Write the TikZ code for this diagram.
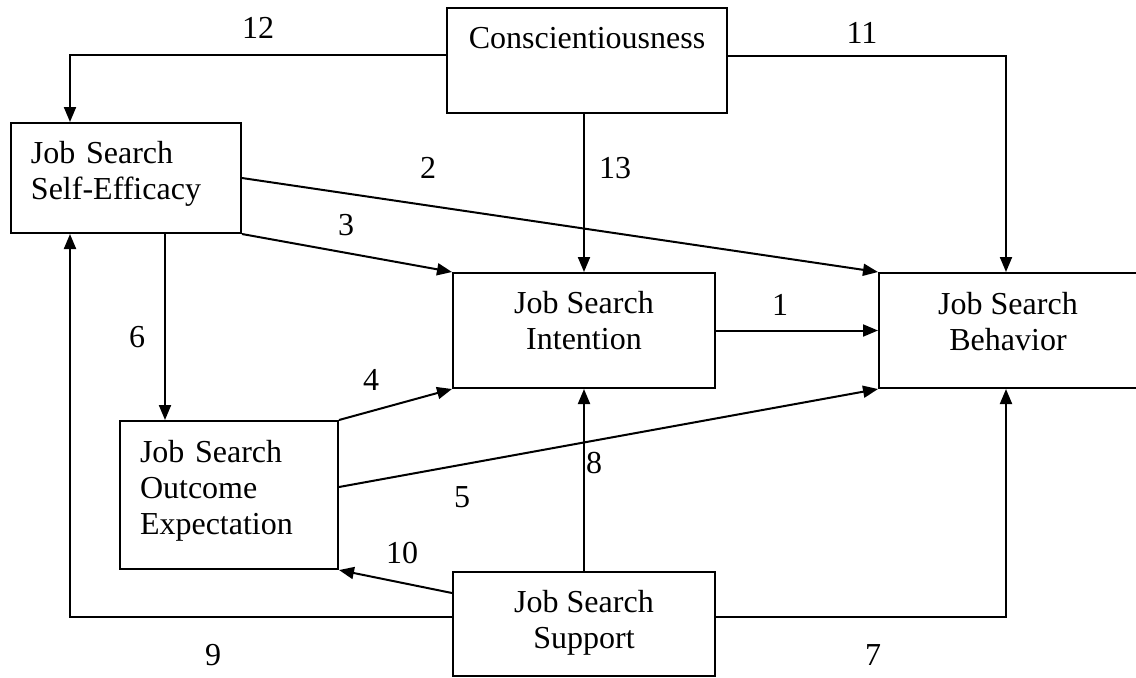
\documentclass[tikz,border=0pt]{standalone}
\usepackage{fontspec}
\setmainfont{Liberation Serif}
\usetikzlibrary{arrows.meta}
\tikzset{
  factor/.style={draw, line width=1pt, inner sep=0pt, font=\fontsize{16}{18}\selectfont},
  flow/.style={-{Triangle[length=7.5pt,width=6pt]}, line width=1pt},
  path num/.style={font=\fontsize{16}{18}\selectfont, inner sep=0pt}
}

\begin{document}
\begin{tikzpicture}[x=0.5pt,y=-0.5pt]
  \useasboundingbox (0,0) rectangle (1136,677);
  \clip (0,0) rectangle (1136,677);

  \node[factor, minimum width=140pt, minimum height=52.5pt, text depth=23pt] (consc) at (587,60.5)
    {Conscientiousness};
  \node[factor, align=left, inner xsep=10pt, text width=95pt, minimum height=55pt, text depth=26pt] (efficacy) at (126,178)
    {Job Search\\Self-Efficacy};
  \node[factor, align=center, minimum width=131pt, minimum height=57.5pt, text depth=10pt] (intention) at (584,330.5)
    {Job Search\\Intention};
  \node[factor, align=center, minimum width=129pt, minimum height=57.5pt, text depth=9.5pt] (behavior) at (1008,330.5)
    {Job Search\\Behavior};
  \node[factor, align=left, inner xsep=10pt, text width=89pt, minimum height=74pt, text depth=43.5pt] (outcome) at (229,495)
    {Job Search\\Outcome\\Expectation};
  \node[factor, align=center, minimum width=131pt, minimum height=52pt, text depth=5pt] (support) at (584,624)
    {Job Search\\Support};

  \coordinate (c12) at (70,55);
  \coordinate (c11) at (1006,56);
  \coordinate (c6) at (165,0);
  \coordinate (c9) at (70,617);
  \coordinate (c7) at (1006,617);

  \draw[flow] (consc.west |- c12) -- (c12) -- (c12 |- efficacy.north);
  \draw[flow] (consc.east |- c11) -- (c11) -- (c11 |- behavior.north);
  \draw[flow] (intention.north |- consc.south) -- (intention.north);
  \draw[flow] (efficacy.east) -- (behavior.north west);
  \draw[flow] (efficacy.south east) -- (intention.north west);
  \draw[flow] (c6 |- efficacy.south) -- (c6 |- outcome.north);
  \draw[flow] (outcome.north east) -- (intention.south west);
  \draw[flow] ([yshift=4pt]outcome.east) -- (behavior.south west);
  \draw[flow] (intention.east) -- (behavior.west);
  \draw[flow] (support.north) -- (intention.south);
  \draw[flow] ([yshift=15.5pt]support.west) -- (outcome.south east);
  \draw[flow] (support.west |- c9) -- (c9) -- (c9 |- efficacy.south);
  \draw[flow] (support.east |- c7) -- (c7) -- (c7 |- behavior.south);

  \node[path num] (n1) at (780,305) {1};
  \node[path num] (n2) at (428,168) {2};
  \node[path num] (n3) at (346,225) {3};
  \node[path num] (n4) at (371,380) {4};
  \node[path num] (n5) at (462,497) {5};
  \node[path num] (n6) at (137,337) {6};
  \node[path num] (n7) at (873,655) {7};
  \node[path num] (n8) at (594,463) {8};
  \node[path num] (n9) at (213,655) {9};
  \node[path num] (n10) at (402,553) {10};
  \node[path num] (n11) at (862,33) {11};
  \node[path num] (n12) at (258,28) {12};
  \node[path num] (n13) at (615,168) {13};
\end{tikzpicture}
\end{document}
